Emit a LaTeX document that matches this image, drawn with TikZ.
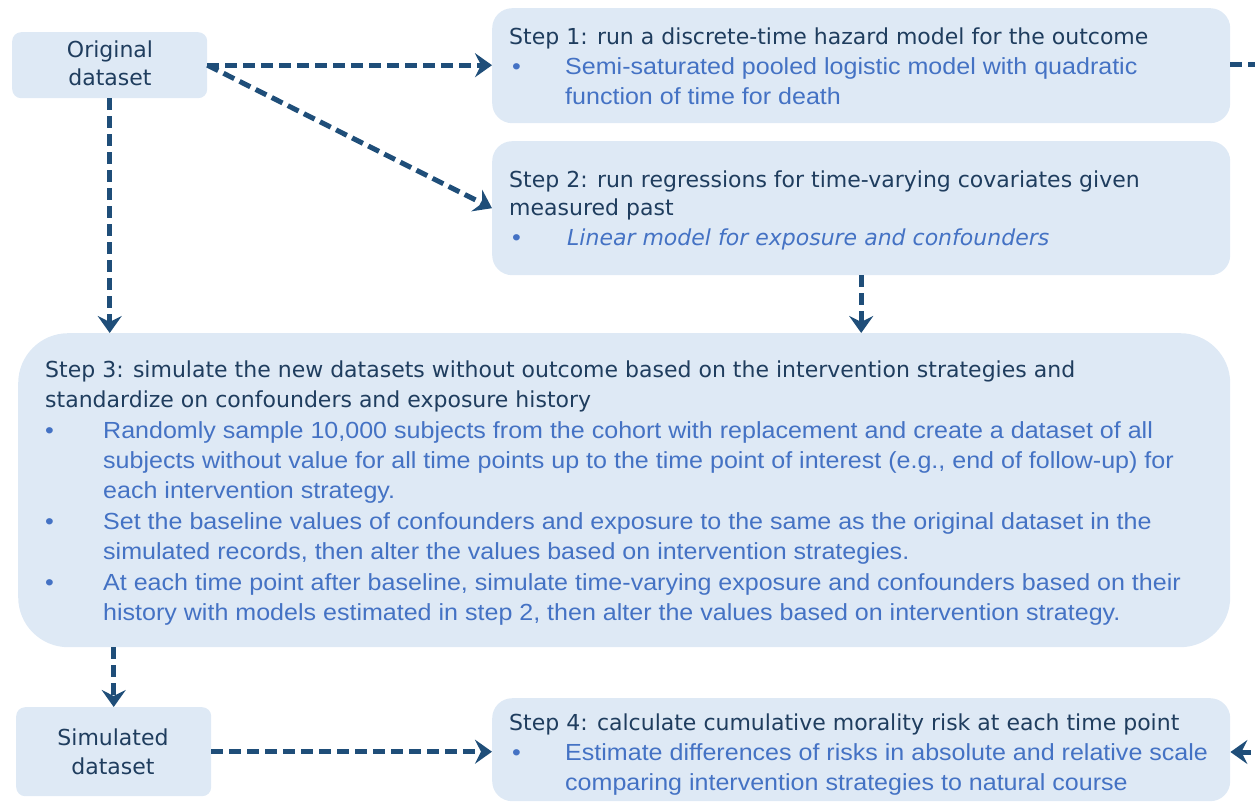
\documentclass[tikz,border=0pt]{standalone}
\usepackage{fontspec}
\setmainfont{DejaVu Sans}
\newfontfamily\arialf[FakeStretch=1.075]{Liberation Sans}
\usetikzlibrary{arrows.meta}
\definecolor{boxfill}{HTML}{DEE9F5}
\definecolor{hdcol}{HTML}{1F3D5E}
\definecolor{bluetxt}{HTML}{4472C4}
\definecolor{arrcol}{HTML}{1F4E79}
\newcommand\hdfont{\fontsize{22}{29.5}\selectfont\color{hdcol}}
\newcommand\bdfont{\arialf\fontsize{23.3}{30}\selectfont\color{bluetxt}}
\newcommand\itfont{\fontsize{22}{29.5}\selectfont\itshape\color{bluetxt}}
\begin{document}
\begin{tikzpicture}[x=1pt,y=-1pt,
  box/.style={fill=boxfill, draw=none, inner sep=0pt, anchor=north west},
  conn/.style={draw=arrcol, line width=5pt, dash pattern=on 12pt off 6pt,
    -{Stealth[length=17pt,width=24pt,inset=6pt]}},
  hd/.style={anchor=base west, inner sep=0pt, font=\hdfont},
  hdc/.style={anchor=base, inner sep=0pt, font=\hdfont},
  bd/.style={anchor=base west, inner sep=0pt, font=\bdfont},
  it/.style={anchor=base west, inner sep=0pt, font=\itfont},
  bul/.style={anchor=base west, inner sep=0pt, font=\bdfont}]
\useasboundingbox (0,0) rectangle (1255,802);

% boxes
\node[box, rounded corners=9pt, minimum width=195pt, minimum height=66pt] (orig) at (12,32) {};
\node[box, rounded corners=9pt, minimum width=195pt, minimum height=89pt] (sim) at (16,707) {};
\node[box, rounded corners=20pt, minimum width=738pt, minimum height=115pt] (s1) at (492,8) {};
\node[box, rounded corners=20pt, minimum width=738pt, minimum height=134pt] (s2) at (492,141) {};
\node[box, rounded corners=50pt, minimum width=1212pt, minimum height=314pt] (s3) at (18,333) {};
\node[box, rounded corners=20pt, minimum width=738pt, minimum height=103pt] (s4) at (492,698) {};

% dataset labels
\node[hdc] (origa) at (110,57.5) {Original};
\node[hdc] (origb) at (110,85.5) {dataset};
\node[hdc] (sima) at (113,745.5) {Simulated};
\node[hdc] (simb) at (113,774.5) {dataset};

% step 1
\node[hd] (t1h) at (509,44.5) {Step 1: run a discrete-time hazard model for the outcome};
\node[bul] (t1u) at (512,75) {•};
\node[bd] (t1a) at (565,75) {Semi-saturated pooled logistic model with quadratic};
\node[bd] (t1b) at (565,105) {function of time for death};

% step 2
\node[hd] (t2h) at (509,187.5) {Step 2: run regressions for time-varying covariates given};
\node[hd] (t2i) at (509,215.5) {measured past};
\node[bul] (t2u) at (512,245.5) {•};
\node[it] (t2a) at (567,245.5) {Linear model for exposure and confounders};

% step 3
\node[hd] (t3h) at (45,377.5) {Step 3: simulate the new datasets without outcome based on the intervention strategies and};
\node[hd] (t3i) at (45,407.5) {standardize on confounders and exposure history};
\node[bul] (t3u1) at (45,438) {•};
\node[bd] (t3a) at (103,438) {Randomly sample 10,000 subjects from the cohort with replacement and create a dataset of all};
\node[bd] (t3b) at (103,468) {subjects without value for all time points up to the time point of interest (e.g., end of follow-up) for};
\node[bd] (t3c) at (103,498) {each intervention strategy.};
\node[bul] (t3u2) at (45,529) {•};
\node[bd] (t3d) at (103,529) {Set the baseline values of confounders and exposure to the same as the original dataset in the};
\node[bd] (t3e) at (103,559) {simulated records, then alter the values based on intervention strategies.};
\node[bul] (t3u3) at (45,590) {•};
\node[bd] (t3f) at (103,590) {At each time point after baseline, simulate time-varying exposure and confounders based on their};
\node[bd] (t3g) at (103,620) {history with models estimated in step 2, then alter the values based on intervention strategy.};

% step 4
\node[hd] (t4h) at (509,730.5) {Step 4: calculate cumulative morality risk at each time point};
\node[bul] (t4u) at (512,760) {•};
\node[bd] (t4a) at (565,760) {Estimate differences of risks in absolute and relative scale};
\node[bd] (t4b) at (565,790) {comparing intervention strategies to natural course};

% connectors
\coordinate (rc1) at (1257,65);
\coordinate (rc2) at (1257,752);
\draw[conn] (orig.east) -- (s1.west |- orig.east);
\draw[conn] (orig.east) -- (s2.west);
\draw[conn] (orig.south) -- (orig.south |- s3.north);
\draw[conn] (s2.south) -- (s2.south |- s3.north);
\draw[conn] (sim.north |- s3.south) -- (sim.north);
\draw[conn] (sim.east) -- (s4.west |- sim.east);
\draw[conn] (s1.east |- rc1) -- (rc1) -- (rc2) -- (s4.east |- rc2);
\end{tikzpicture}
\end{document}
